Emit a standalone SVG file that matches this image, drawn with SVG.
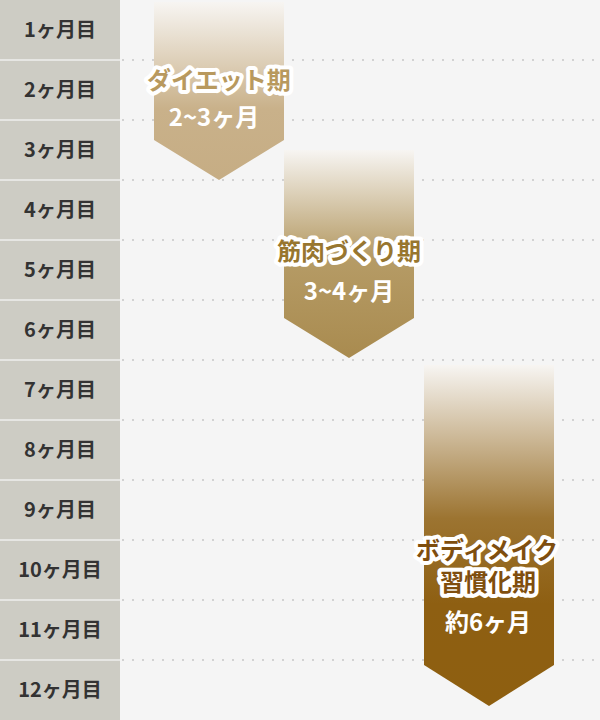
<svg xmlns="http://www.w3.org/2000/svg" width="600" height="720" viewBox="0 0 600 720">
<defs>
<linearGradient id="g1" x1="0" y1="0" x2="0" y2="1"><stop offset="0" stop-color="#f7f5f2"/><stop offset="0.6" stop-color="#c9b18a"/><stop offset="1" stop-color="#c6ad84"/></linearGradient>
<linearGradient id="g2" x1="0" y1="0" x2="0" y2="1"><stop offset="0" stop-color="#f7f5f2"/><stop offset="0.5" stop-color="#b69c67"/><stop offset="1" stop-color="#a98b4f"/></linearGradient>
<linearGradient id="g3" x1="0" y1="0" x2="0" y2="1"><stop offset="0" stop-color="#f7f5f2"/><stop offset="0.45" stop-color="#9c7431"/><stop offset="0.7" stop-color="#8e5f12"/><stop offset="1" stop-color="#8e5f10"/></linearGradient>
<style>
.lbl{font-family:"Noto Sans CJK JP","Noto Sans",sans-serif;font-weight:bold;font-size:20px;fill:#333;text-anchor:middle}
.ttl{font-family:"Noto Sans CJK JP",sans-serif;font-weight:bold;font-size:24px;text-anchor:middle;stroke:#fff;stroke-width:8px;stroke-linejoin:round;paint-order:stroke}
.sub{font-family:"Noto Sans CJK JP",sans-serif;font-weight:bold;font-size:24px;fill:#fff;text-anchor:middle}
.dot{stroke:#d2d2d2;stroke-width:2;stroke-dasharray:2 8}
.sep{stroke:#e6e6e3;stroke-width:2}
</style>
</defs>
<rect width="600" height="720" fill="#f5f5f5"/>
<g id="timeline">
<rect x="0" y="0" width="120" height="720" fill="#cdccc4"/>
<g class="dots">
<line class="dot" x1="122" y1="60" x2="600" y2="60"/>
<line class="dot" x1="122" y1="120" x2="600" y2="120"/>
<line class="dot" x1="122" y1="180" x2="600" y2="180"/>
<line class="dot" x1="122" y1="240" x2="600" y2="240"/>
<line class="dot" x1="122" y1="300" x2="600" y2="300"/>
<line class="dot" x1="122" y1="360" x2="600" y2="360"/>
<line class="dot" x1="122" y1="420" x2="600" y2="420"/>
<line class="dot" x1="122" y1="480" x2="600" y2="480"/>
<line class="dot" x1="122" y1="540" x2="600" y2="540"/>
<line class="dot" x1="122" y1="600" x2="600" y2="600"/>
<line class="dot" x1="122" y1="660" x2="600" y2="660"/>
</g>
<g class="seps">
<line class="sep" x1="0" y1="60" x2="120" y2="60"/>
<line class="sep" x1="0" y1="120" x2="120" y2="120"/>
<line class="sep" x1="0" y1="180" x2="120" y2="180"/>
<line class="sep" x1="0" y1="240" x2="120" y2="240"/>
<line class="sep" x1="0" y1="300" x2="120" y2="300"/>
<line class="sep" x1="0" y1="360" x2="120" y2="360"/>
<line class="sep" x1="0" y1="420" x2="120" y2="420"/>
<line class="sep" x1="0" y1="480" x2="120" y2="480"/>
<line class="sep" x1="0" y1="540" x2="120" y2="540"/>
<line class="sep" x1="0" y1="600" x2="120" y2="600"/>
<line class="sep" x1="0" y1="660" x2="120" y2="660"/>
</g>
<text class="lbl" x="60" y="37">1ヶ月目</text>
<text class="lbl" x="60" y="97">2ヶ月目</text>
<text class="lbl" x="60" y="157">3ヶ月目</text>
<text class="lbl" x="60" y="217">4ヶ月目</text>
<text class="lbl" x="60" y="277">5ヶ月目</text>
<text class="lbl" x="60" y="337">6ヶ月目</text>
<text class="lbl" x="60" y="397">7ヶ月目</text>
<text class="lbl" x="60" y="457">8ヶ月目</text>
<text class="lbl" x="60" y="517">9ヶ月目</text>
<text class="lbl" x="60" y="577">10ヶ月目</text>
<text class="lbl" x="60" y="637">11ヶ月目</text>
<text class="lbl" x="60" y="697">12ヶ月目</text>
</g>
<g id="phase1">
<polygon points="154,2 284,2 284,140 219,180 154,140" fill="url(#g1)"/>
<text class="ttl" x="219" y="89" fill="#b8995e">ダイエット期</text>
<text class="sub" x="214" y="126">2~3ヶ月</text>
</g>
<g id="phase2">
<polygon points="284,150 414,150 414,318 349,358 284,318" fill="url(#g2)"/>
<text class="ttl" x="349" y="260" fill="#98762f">筋肉づくり期</text>
<text class="sub" x="349" y="300">3~4ヶ月</text>
</g>
<g id="phase3">
<polygon points="424,365 554,365 554,665 489,706 424,665" fill="url(#g3)"/>
<text class="ttl" x="487" y="559" fill="#7f4e0e">ボディメイク</text>
<text class="ttl" x="488" y="591" fill="#7f4e0e">習慣化期</text>
<text class="sub" x="488" y="631">約6ヶ月</text>
</g>
</svg>
